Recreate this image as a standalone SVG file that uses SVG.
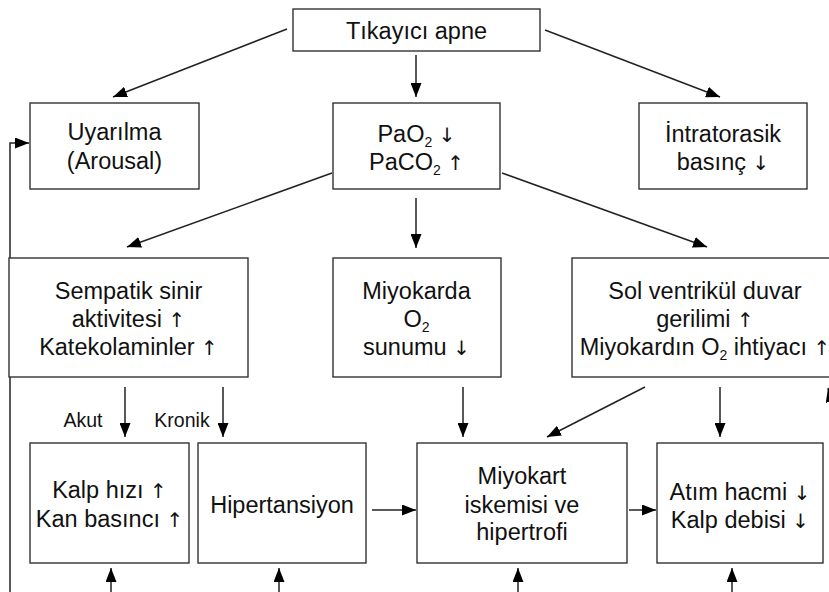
<svg xmlns="http://www.w3.org/2000/svg" width="829" height="592" viewBox="0 0 829 592">
<style>
.box{fill:#fff;stroke:#333;stroke-width:1.4}
.t{font-family:"Liberation Sans",Arial,Helvetica,sans-serif;font-size:23.5px;fill:#111;text-anchor:middle}
.s{font-family:"Liberation Sans",Arial,Helvetica,sans-serif;font-size:19.5px;fill:#111;text-anchor:middle}
.ar{font-family:"DejaVu Sans",sans-serif;font-size:20px;fill:#111}
.c{fill:none;stroke:#222;stroke-width:1.5}
.sub{font-size:14px}
</style>
<defs>
<marker id="ah" markerUnits="userSpaceOnUse" markerWidth="15" markerHeight="11" refX="14" refY="5.5" orient="auto">
<path d="M0,0 L14,5.5 L0,11 z" fill="#000"/>
</marker>
</defs>
<rect width="829" height="592" fill="#fff"/>
<g id="connectors">
<line class="c" x1="287" y1="29" x2="113" y2="97" marker-end="url(#ah)"/>
<line class="c" x1="416" y1="55" x2="416" y2="97" marker-end="url(#ah)"/>
<line class="c" x1="545" y1="30" x2="720" y2="97" marker-end="url(#ah)"/>
<polyline class="c" points="10,600 10,143 29,143" marker-end="url(#ah)"/>
<line class="c" x1="332" y1="173" x2="127" y2="247" marker-end="url(#ah)"/>
<line class="c" x1="416" y1="198" x2="416" y2="248" marker-end="url(#ah)"/>
<line class="c" x1="502" y1="173" x2="707" y2="247" marker-end="url(#ah)"/>
<line class="c" x1="125" y1="387" x2="125" y2="437" marker-end="url(#ah)"/>
<line class="c" x1="223" y1="387" x2="223" y2="437" marker-end="url(#ah)"/>
<line class="c" x1="463" y1="387" x2="463" y2="437" marker-end="url(#ah)"/>
<line class="c" x1="645" y1="387" x2="547" y2="437" marker-end="url(#ah)"/>
<line class="c" x1="720" y1="387" x2="720" y2="437" marker-end="url(#ah)"/>
<line class="c" x1="840" y1="440" x2="828" y2="388" marker-end="url(#ah)"/>
<line class="c" x1="372" y1="510" x2="416" y2="510" marker-end="url(#ah)"/>
<line class="c" x1="629" y1="510" x2="656" y2="510" marker-end="url(#ah)"/>
<line class="c" x1="111" y1="600" x2="111" y2="568" marker-end="url(#ah)"/>
<line class="c" x1="279" y1="600" x2="279" y2="568" marker-end="url(#ah)"/>
<line class="c" x1="518" y1="600" x2="518" y2="568" marker-end="url(#ah)"/>
<line class="c" x1="732" y1="600" x2="732" y2="568" marker-end="url(#ah)"/>
</g>
<g id="n-apne">
<rect class="box" x="293" y="9" width="247" height="42"/>
<text class="t" x="416.5" y="39">Tıkayıcı apne</text>
</g>
<g id="n-uyarilma">
<rect class="box" x="30" y="103" width="169" height="86"/>
<text class="t" x="114.5" y="140">Uyarılma</text>
<text class="t" x="114.5" y="169">(Arousal)</text>
</g>
<g id="n-pao2">
<rect class="box" x="333" y="103" width="167" height="86"/>
<text class="t" x="416.5" y="142">PaO<tspan class="sub" dy="5">2</tspan><tspan dy="-5"> </tspan><tspan class="ar">↓</tspan></text>
<text class="t" x="416.5" y="170">PaCO<tspan class="sub" dy="5">2</tspan><tspan dy="-5"> </tspan><tspan class="ar">↑</tspan></text>
</g>
<g id="n-intratorasik">
<rect class="box" x="639" y="103" width="168" height="86"/>
<text class="t" x="723" y="142">İntratorasik</text>
<text class="t" x="723" y="170">basınç <tspan class="ar">↓</tspan></text>
</g>
<g id="n-sempatik">
<rect class="box" x="9" y="258" width="239" height="119"/>
<text class="t" x="128.5" y="299">Sempatik sinir</text>
<text class="t" x="128.5" y="327">aktivitesi <tspan class="ar">↑</tspan></text>
<text class="t" x="128.5" y="355">Katekolaminler <tspan class="ar">↑</tspan></text>
</g>
<g id="n-miyokarda">
<rect class="box" x="333" y="258" width="168" height="119"/>
<text class="t" x="416.5" y="299">Miyokarda</text>
<text class="t" x="416.5" y="327">O<tspan class="sub" dy="5">2</tspan></text>
<text class="t" x="416.5" y="355">sunumu <tspan class="ar">↓</tspan></text>
</g>
<g id="n-solventrikul">
<rect class="box" x="572" y="258" width="266" height="119"/>
<text class="t" x="705" y="299">Sol ventrikül duvar</text>
<text class="t" x="705" y="327">gerilimi <tspan class="ar">↑</tspan></text>
<text class="t" x="705" y="355">Miyokardın O<tspan class="sub" dy="5">2</tspan><tspan dy="-5"> ihtiyacı </tspan><tspan class="ar">↑</tspan></text>
</g>
<g id="labels">
<text class="s" x="83" y="427">Akut</text>
<text class="s" x="182" y="427">Kronik</text>
</g>
<g id="n-kalphizi">
<rect class="box" x="30" y="443" width="159" height="120"/>
<text class="t" x="109.5" y="498">Kalp hızı <tspan class="ar">↑</tspan></text>
<text class="t" x="109.5" y="527">Kan basıncı <tspan class="ar">↑</tspan></text>
</g>
<g id="n-hipertansiyon">
<rect class="box" x="198" y="443" width="168" height="120"/>
<text class="t" x="282" y="513">Hipertansiyon</text>
</g>
<g id="n-miyokart">
<rect class="box" x="417" y="443" width="210" height="120"/>
<text class="t" x="522" y="484">Miyokart</text>
<text class="t" x="522" y="513">iskemisi ve</text>
<text class="t" x="522" y="540">hipertrofi</text>
</g>
<g id="n-atim">
<rect class="box" x="657" y="443" width="166" height="120"/>
<text class="t" x="740" y="500">Atım hacmi <tspan class="ar">↓</tspan></text>
<text class="t" x="740" y="528">Kalp debisi <tspan class="ar">↓</tspan></text>
</g>
</svg>
